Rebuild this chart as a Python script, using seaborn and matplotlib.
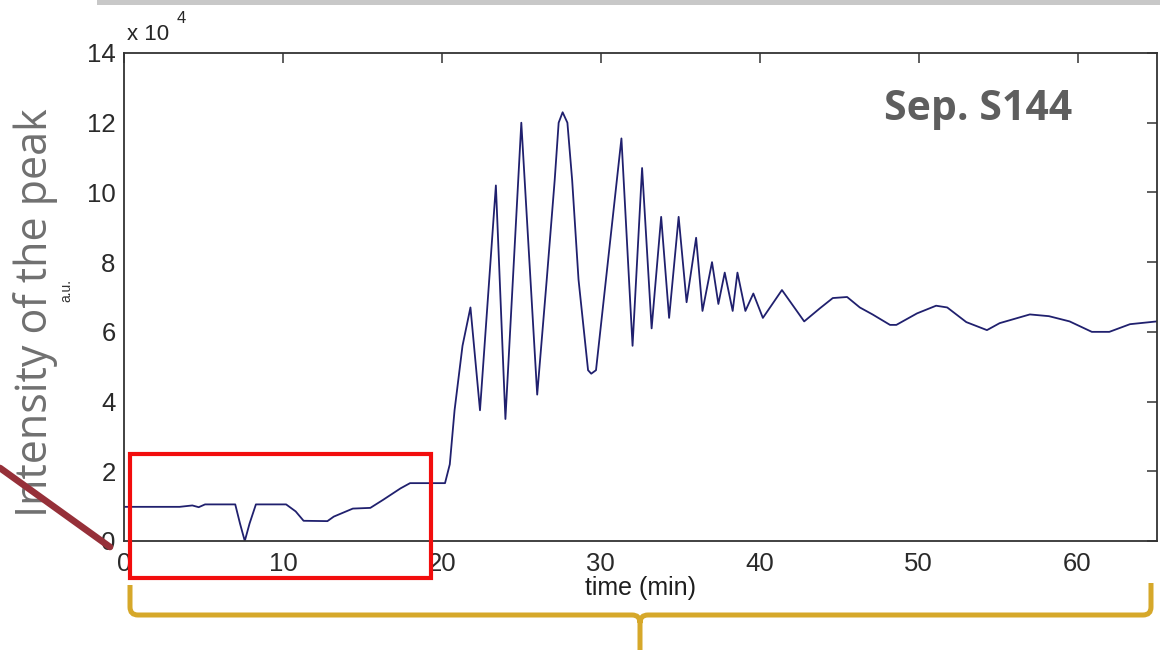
import numpy as np
import pandas as pd
import matplotlib
matplotlib.use("Agg")
import matplotlib.pyplot as plt
import seaborn as sns
from matplotlib.patches import Rectangle, PathPatch
from matplotlib.path import Path
from matplotlib.lines import Line2D

# ---------------- data ----------------
time_min = [0.0, 3.5, 4.3, 4.7, 5.1, 7.0, 7.3, 7.6, 7.9, 8.3, 10.2, 10.8, 11.3,
            12.8, 13.2, 14.4, 15.5, 16.3, 17.4, 18.0, 20.2, 20.5, 20.8, 21.3,
            21.8, 22.4, 23.4, 24.0, 25.0, 26.0, 26.6, 27.1, 27.35, 27.6, 27.9,
            28.2, 28.6, 29.2, 29.4, 29.7, 31.3, 32.0, 32.6, 33.2, 33.8, 34.3,
            34.9, 35.4, 36.0, 36.4, 37.0, 37.4, 37.8, 38.3, 38.6, 39.1, 39.6,
            40.2, 41.4, 42.8, 43.8, 44.6, 45.5, 46.3, 47.1, 48.2, 48.6, 49.9,
            51.1, 51.8, 53.0, 54.3, 55.1, 57.0, 58.2, 59.5, 60.9, 62.0, 63.3,
            65.0]
intensity = [9800, 9800, 10200, 9700, 10500, 10500, 5000, 0, 5000, 10500,
             10500, 8500, 5800, 5700, 7000, 9300, 9500, 11800, 15100, 16600,
             16600, 22000, 37500, 56000, 67000, 37500, 102000, 35000, 120000,
             42000, 75000, 103500, 120000, 123000, 120000, 103500, 75000,
             49000, 48000, 49000, 115500, 56000, 107000, 61000, 93000, 64000,
             93000, 68500, 87000, 66000, 80000, 68000, 77000, 66000, 77000,
             66000, 71000, 64000, 72000, 63000, 66800, 69700, 70000, 67000,
             65000, 62000, 62000, 65300, 67500, 67000, 62800, 60500, 62500,
             65000, 64500, 63000, 60000, 60000, 62200, 63000]
x_ticks = [0, 10, 20, 30, 40, 50, 60]
y_ticks = [0, 20000, 40000, 60000, 80000, 100000, 120000, 140000]
y_tick_labels = ["0", "2", "4", "6", "8", "10", "12", "14"]

df = pd.DataFrame({"time": time_min, "intensity": intensity})

# ---------------- figure ----------------
W, H = 1160, 650
sns.set_style("white")
plt.rcParams["font.family"] = ["Liberation Sans", "DejaVu Sans"]
fig = plt.figure(figsize=(W / 100, H / 100), dpi=100)
fig.patch.set_facecolor("white")


def fx(px):
    return px / W


def fy(py):
    return 1 - py / H


ax = fig.add_axes([fx(124), fy(541), fx(1157) - fx(124), fy(53) - fy(541)])
sns.lineplot(data=df, x="time", y="intensity", ax=ax, color="#20206e",
             linewidth=1.3, sort=False, estimator=None)

ax.set_xlim(0, 65)
ax.set_ylim(0, 140000)
ax.set_xticks(x_ticks)
ax.set_xticklabels([str(v) for v in x_ticks])
ax.set_yticks(y_ticks)
ax.set_yticklabels(y_tick_labels)
ax.set_xlabel("time (min)", fontsize=18, color="#1e1e1e", labelpad=0)
ax.set_ylabel("")
ax.tick_params(axis="both", direction="in", length=7, width=1.1,
               color="#333333", labelsize=18.5, labelcolor="#2a2a2a",
               top=True, right=True)
ax.tick_params(axis="x", pad=8)
ax.tick_params(axis="y", pad=6)
for s in ax.spines.values():
    s.set_visible(True)
    s.set_color("#333333")
    s.set_linewidth(1.3)

# offset label "x 10^4"
fig.text(fx(127), fy(40), "x 10", fontsize=16, color="#262626", ha="left", va="baseline")
fig.text(fx(177), fy(23), "4", fontsize=12, color="#262626", ha="left", va="baseline")

# small MATLAB-style ylabel
fig.text(fx(66), fy(290), "a.u.", rotation=90, fontsize=10, color="#333333",
         ha="center", va="center")

# big overlay y label
fig.text(fx(36), fy(313), "Intensity of the peak", rotation=90, fontsize=31,
         color="#707070", ha="center", va="center",
         family=["Open Sans", "DejaVu Sans"])

# annotation
fig.text(fx(978), fy(110), "Sep. S144", fontsize=29.5, fontweight="bold",
         color="#5e5e5e", ha="center", va="center",
         family=["Open Sans", "DejaVu Sans"])

# top grey bar
fig.patches.append(Rectangle((fx(97), fy(5)), fx(1160) - fx(97), fy(0) - fy(5),
                             transform=fig.transFigure, facecolor="#c8c8c8",
                             edgecolor="none", zorder=5))

# red highlight rectangle
fig.patches.append(Rectangle((fx(130), fy(578)), fx(431) - fx(130), fy(454) - fy(578),
                             transform=fig.transFigure, facecolor="none",
                             edgecolor="#f20d0d", linewidth=3.0, zorder=6))

# dark red pointer line
fig.lines.append(Line2D([fx(0), fx(110)], [fy(468), fy(547)],
                        transform=fig.transFigure, color="#963039",
                        linewidth=4.8, solid_capstyle="round", zorder=7))

# gold bracket
r = 8
verts = [(130, 585), (130, 615 - r), (130, 615), (130 + r, 615),
         (640 - r, 615), (640, 615), (640, 615 + r), (640, 650),
         (640, 615 + r), (640, 615), (640 + r, 615),
         (1151 - r, 615), (1151, 615), (1151, 615 - r), (1151, 583)]
codes = [Path.MOVETO, Path.LINETO, Path.CURVE3, Path.CURVE3,
         Path.LINETO, Path.CURVE3, Path.CURVE3, Path.LINETO,
         Path.MOVETO, Path.CURVE3, Path.CURVE3,
         Path.LINETO, Path.CURVE3, Path.CURVE3, Path.LINETO]
verts_f = [(fx(a), fy(b)) for a, b in verts]
fig.patches.append(PathPatch(Path(verts_f, codes), transform=fig.transFigure,
                             facecolor="none", edgecolor="#d6a82a",
                             linewidth=3.6, capstyle="butt", zorder=6))

fig.savefig("out.png", dpi=100, facecolor="white")
